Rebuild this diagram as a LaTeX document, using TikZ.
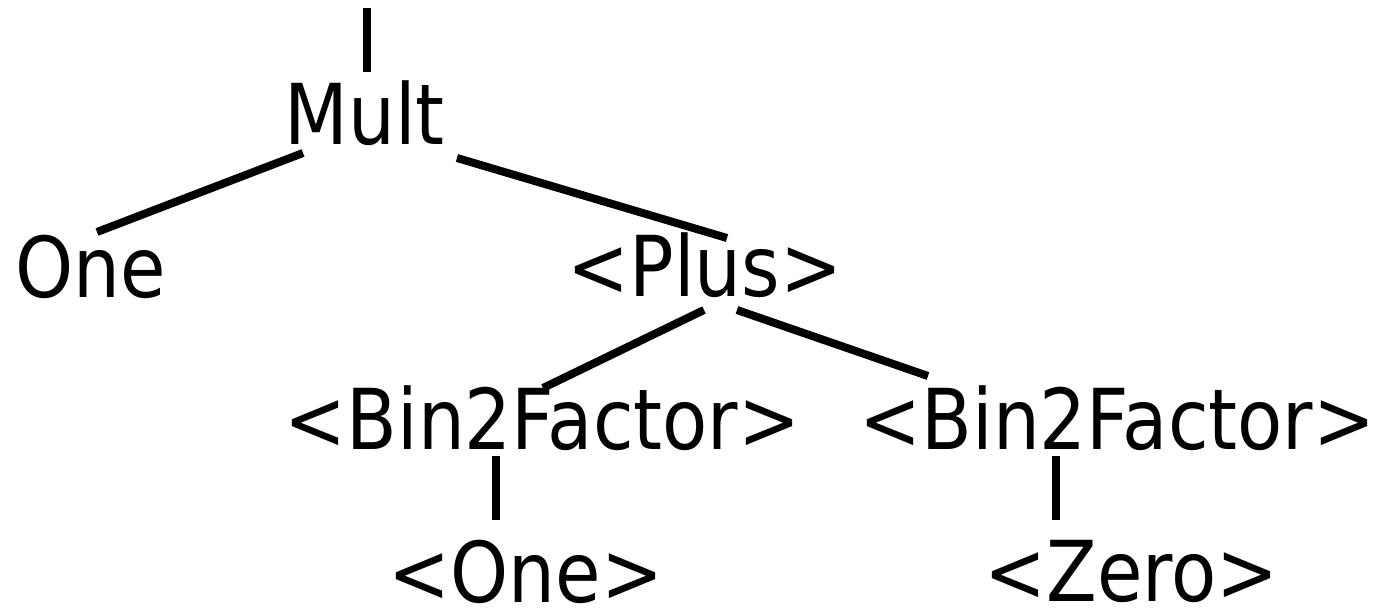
\documentclass[tikz,border=0pt]{standalone}
\usepackage{fontspec}
\setmainfont{DejaVu Sans}[FakeStretch=0.88]
\usetikzlibrary{calc}
\begin{document}
\begin{tikzpicture}[x=0.5pt,y=-0.5pt,
  sym/.style={anchor=base,inner sep=0pt,outer sep=0pt,font=\fontsize{42pt}{50pt}\selectfont},
  edge/.style={line width=4pt,line cap=butt}]
\useasboundingbox (0,0) rectangle (1386,608);

% tree nodes (placed by centre of baseline)
\node[sym] (mult)  at (364.5,145) {Mult};
\node[sym] (one)   at (91,298)    {One};
\node[sym] (plus)  at (705,297)   {<Plus>};
\node[sym] (binl)  at (542.5,450) {<Bin2Factor>};
\node[sym] (binr)  at (1117.5,450){<Bin2Factor>};
\node[sym] (onel)  at (526,603)   {<One>};
\node[sym] (zero)  at (1131.5,602){<Zero>};

% stub going up from the root
\coordinate (up) at ($(mult.base)+(2.5,-137)$);

% branches
\draw[edge] (up) -- ($(mult.base)+(2.5,-73)$);
\draw[edge] ($(mult.base)+(-61.5,8)$) -- ($(one.base)+(6,-66)$);
\draw[edge] ($(mult.base)+(92.5,13)$) -- ($(plus.base)+(22,-59)$);
\draw[edge] ($(plus.base)+(-1,13)$) -- ($(binl.base)+(0.5,-62)$);
\draw[edge] ($(plus.base)+(32,13)$) -- ($(binr.base)+(-189.5,-74)$);
\draw[edge] ($(binl.base)+(-46.5,6)$) -- ($(onel.base)+(-30,-83)$);
\draw[edge] ($(binr.base)+(-61.5,6)$) -- ($(zero.base)+(-75.5,-82)$);
\end{tikzpicture}
\end{document}
